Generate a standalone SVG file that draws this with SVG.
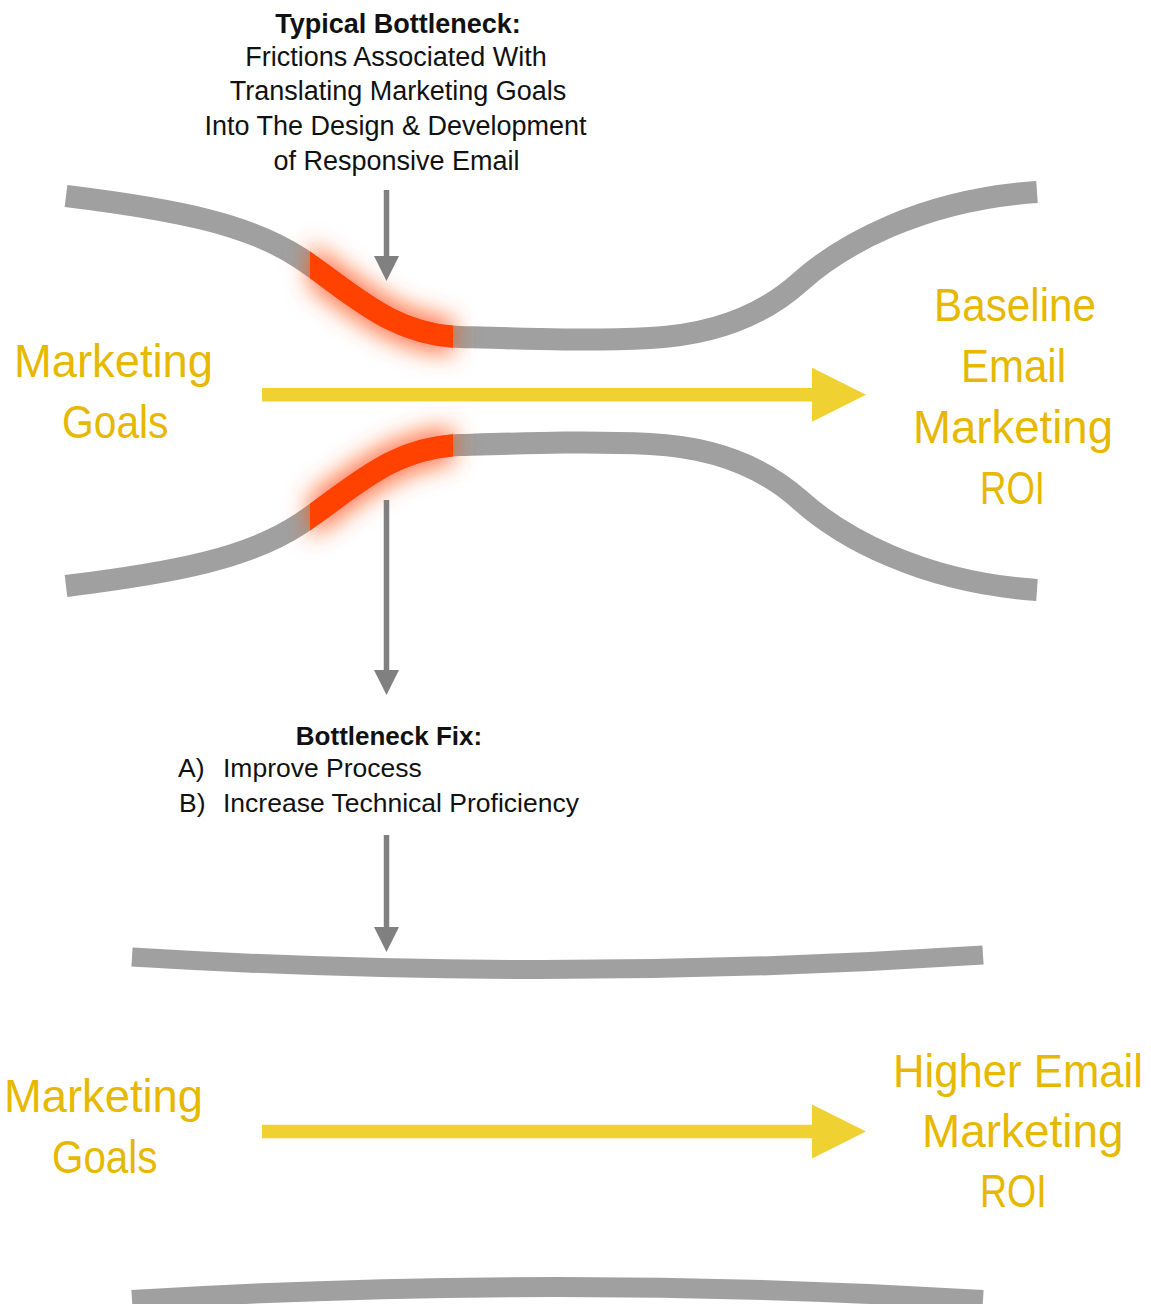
<svg xmlns="http://www.w3.org/2000/svg" width="1151" height="1304" viewBox="0 0 1151 1304">
  <style>
    .pipe { fill: none; stroke: #a0a0a0; stroke-linecap: butt; }
    .hot { fill: none; stroke: #ff4200; stroke-width: 22; }
    .glow { fill: none; stroke: #ff4a10; stroke-width: 34; opacity: 0.8; }
    .garrow { stroke: #808080; stroke-width: 5.5; fill: none; }
    .yarrow { stroke: #f0d132; stroke-width: 13.5; fill: none; }
    .dark { font-family: "Liberation Sans", Arial, sans-serif; fill: #111111; }
    .bold { font-weight: bold; }
    .gold { font-family: "Liberation Sans", Arial, sans-serif; font-size: 45.5px; fill: #e6b800; }
  </style>
  <defs>
    <filter id="blur" x="-80%" y="-80%" width="260%" height="260%">
      <feGaussianBlur stdDeviation="12"/>
    </filter>
    <clipPath id="seg">
      <rect x="310" y="0" width="143" height="782"/>
    </clipPath>
    <marker id="ghead" markerUnits="userSpaceOnUse" markerWidth="26" markerHeight="26" refX="0" refY="12.5" orient="auto" viewBox="0 0 26 26">
      <path d="M0,0 L25,12.5 L0,25 Z" fill="#808080"/>
    </marker>
    <marker id="yhead" markerUnits="userSpaceOnUse" markerWidth="55" markerHeight="55" refX="0" refY="27" orient="auto" viewBox="0 0 55 55">
      <path d="M0,0 L54,27 L0,54 Z" fill="#f0d132"/>
    </marker>
  </defs>

  <g id="funnel">
    <path id="funnel-top" class="pipe" stroke-width="22" d="M66,196 C180,210 250,225 300,258 C350,291 390,335 460,337 C530,339 590,341 650,338 C710,335 760,318 800,282 C840,246 920,200 1037,192"/>
    <path id="funnel-bottom" class="pipe" stroke-width="22" d="M66,586 C180,572 250,557 300,524 C350,491 390,447 460,445 C530,443 590,441 650,444 C710,447 760,464 800,500 C840,536 920,582 1037,590"/>
    <g id="bottleneck-glow" filter="url(#blur)">
      <path class="glow" clip-path="url(#seg)" d="M66,196 C180,210 250,225 300,258 C350,291 390,335 460,337"/>
      <path class="glow" clip-path="url(#seg)" d="M66,586 C180,572 250,557 300,524 C350,491 390,447 460,445"/>
    </g>
    <g id="bottleneck">
      <path class="hot" clip-path="url(#seg)" d="M66,196 C180,210 250,225 300,258 C350,291 390,335 460,337"/>
      <path class="hot" clip-path="url(#seg)" d="M66,586 C180,572 250,557 300,524 C350,491 390,447 460,445"/>
    </g>
  </g>

  <g id="pipe-fixed">
    <path class="pipe" stroke-width="19" d="M132,957 Q557,983 983,955"/>
    <path class="pipe" stroke-width="20" d="M132,1300 Q557,1274 983,1300"/>
  </g>

  <g id="connectors">
    <line class="garrow" x1="386.5" y1="190" x2="386.5" y2="256" marker-end="url(#ghead)"/>
    <line class="garrow" x1="386.5" y1="500" x2="386.5" y2="670" marker-end="url(#ghead)"/>
    <line class="garrow" x1="386.5" y1="835" x2="386.5" y2="927" marker-end="url(#ghead)"/>
    <line class="yarrow" x1="262" y1="394.7" x2="812" y2="394.7" marker-end="url(#yhead)"/>
    <line class="yarrow" x1="262" y1="1131.5" x2="812" y2="1131.5" marker-end="url(#yhead)"/>
  </g>

  <g id="label-bottleneck" class="dark" font-size="27" text-anchor="middle">
    <text class="bold" x="398" y="33">Typical Bottleneck:</text>
    <text x="396" y="65.5">Frictions Associated With</text>
    <text x="398" y="100">Translating Marketing Goals</text>
    <text x="395.5" y="135">Into The Design &amp; Development</text>
    <text x="396.5" y="170">of Responsive Email</text>
  </g>

  <g id="label-fix" class="dark" font-size="26.5">
    <text class="bold" x="389" y="745" text-anchor="middle" font-size="26">Bottleneck Fix:</text>
    <text x="178" y="777">A)</text>
    <text x="223" y="777">Improve Process</text>
    <text x="179" y="812">B)</text>
    <text x="223" y="812">Increase Technical Proficiency</text>
  </g>

  <g id="goals-top" class="gold">
    <text x="14" y="377" textLength="199" lengthAdjust="spacingAndGlyphs">Marketing</text>
    <text x="62" y="437.5" textLength="106.5" lengthAdjust="spacingAndGlyphs">Goals</text>
  </g>
  <g id="roi-baseline" class="gold">
    <text x="934" y="320.7" textLength="162" lengthAdjust="spacingAndGlyphs">Baseline</text>
    <text x="961" y="381.7" textLength="105" lengthAdjust="spacingAndGlyphs">Email</text>
    <text x="913" y="443.3" textLength="200" lengthAdjust="spacingAndGlyphs">Marketing</text>
    <text x="980" y="504.3" textLength="65" lengthAdjust="spacingAndGlyphs">ROI</text>
  </g>
  <g id="goals-bottom" class="gold">
    <text x="4" y="1111.7" textLength="199" lengthAdjust="spacingAndGlyphs">Marketing</text>
    <text x="52" y="1173.3" textLength="105.5" lengthAdjust="spacingAndGlyphs">Goals</text>
  </g>
  <g id="roi-higher" class="gold">
    <text x="893" y="1086.7" textLength="250" lengthAdjust="spacingAndGlyphs">Higher Email</text>
    <text x="922" y="1147.3" textLength="201.5" lengthAdjust="spacingAndGlyphs">Marketing</text>
    <text x="980" y="1207.3" textLength="66.7" lengthAdjust="spacingAndGlyphs">ROI</text>
  </g>
</svg>
